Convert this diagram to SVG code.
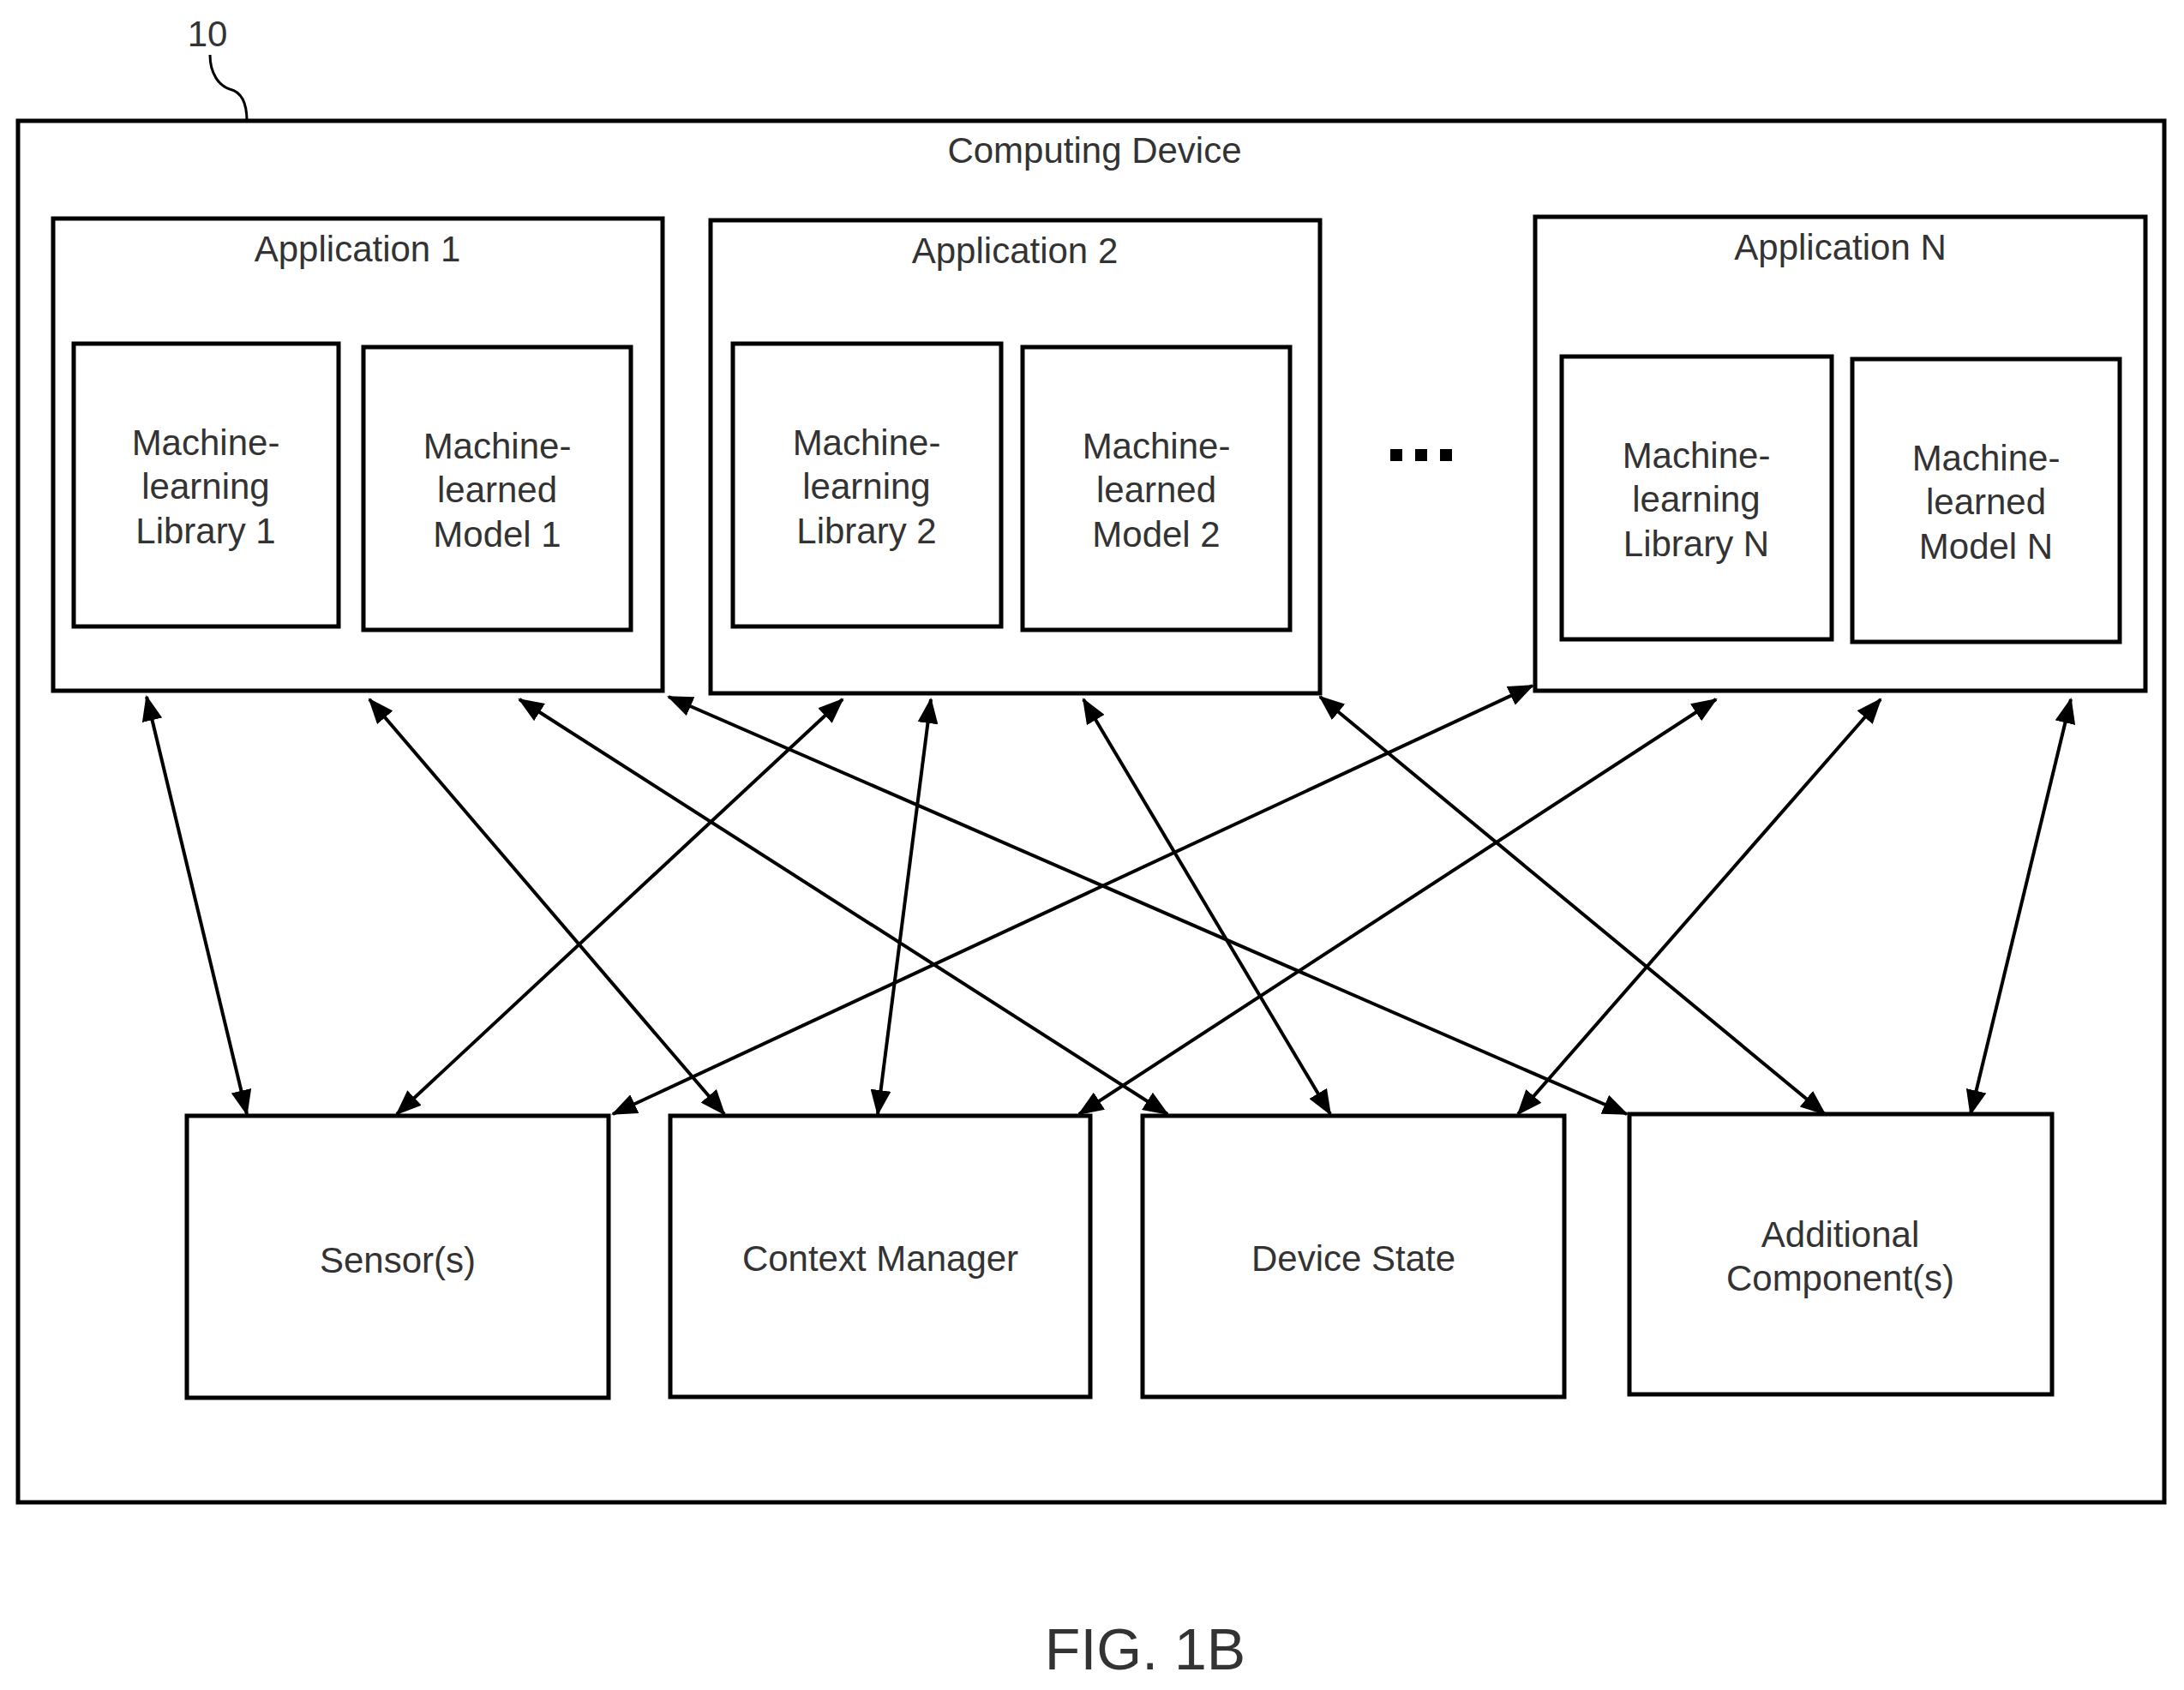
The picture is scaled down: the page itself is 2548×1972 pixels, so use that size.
<svg xmlns="http://www.w3.org/2000/svg" width="2548" height="1972" viewBox="0 0 2548 1972">
<style>
.b{fill:#fff;stroke:#000;stroke-width:5}
.t{font-family:"Liberation Sans",Arial,sans-serif;font-size:42px;fill:#333;text-anchor:middle}
.c line{stroke:#000;stroke-width:4}
</style>
<defs>
<marker id="a" markerUnits="userSpaceOnUse" markerWidth="30" markerHeight="24" refX="28" refY="12" orient="auto-start-reverse">
<path d="M0,0 L30,12 L0,24 Z" fill="#000"/>
</marker>
</defs>
<rect width="2548" height="1972" fill="#fff"/>
<g id="ref">
<text x="242" y="54" class="t">10</text>
<path d="M245,64 C245,85 255,100 268,104 C285,108 288,125 288,141" fill="none" stroke="#000" stroke-width="3"/>
</g>
<g id="device">
<rect x="21" y="141" width="2504" height="1612" class="b"/>
<text x="1277" y="190" class="t">Computing Device</text>
</g>
<g id="app1">
<rect x="62" y="255" width="711" height="551" class="b"/>
<text x="417" y="305" class="t">Application 1</text>
</g>
<g id="lib1"><rect x="86" y="401" width="309" height="330" class="b"/>
<text x="240" y="531" class="t">Machine-</text><text x="240" y="582" class="t">learning</text><text x="240" y="634" class="t">Library 1</text></g>
<g id="model1"><rect x="424" y="405" width="312" height="330" class="b"/>
<text x="580" y="535" class="t">Machine-</text><text x="580" y="586" class="t">learned</text><text x="580" y="638" class="t">Model 1</text></g>
<g id="app2">
<rect x="829" y="257" width="711" height="552" class="b"/>
<text x="1184" y="307" class="t">Application 2</text>
</g>
<g id="lib2"><rect x="855" y="401" width="313" height="330" class="b"/>
<text x="1011" y="531" class="t">Machine-</text><text x="1011" y="582" class="t">learning</text><text x="1011" y="634" class="t">Library 2</text></g>
<g id="model2"><rect x="1193" y="405" width="312" height="330" class="b"/>
<text x="1349" y="535" class="t">Machine-</text><text x="1349" y="586" class="t">learned</text><text x="1349" y="638" class="t">Model 2</text></g>
<g id="dots"><rect x="1622" y="524" width="14" height="14"/><rect x="1651" y="524" width="14" height="14"/><rect x="1680" y="524" width="14" height="14"/></g>
<g id="appN">
<rect x="1791" y="253" width="712" height="553" class="b"/>
<text x="2147" y="303" class="t">Application N</text>
</g>
<g id="libN"><rect x="1822" y="416" width="315" height="330" class="b"/>
<text x="1979" y="546" class="t">Machine-</text><text x="1979" y="597" class="t">learning</text><text x="1979" y="649" class="t">Library N</text></g>
<g id="modelN"><rect x="2161" y="419" width="312" height="330" class="b"/>
<text x="2317" y="549" class="t">Machine-</text><text x="2317" y="600" class="t">learned</text><text x="2317" y="652" class="t">Model N</text></g>
<g id="sensors"><rect x="218" y="1302" width="492" height="329" class="b"/><text x="464" y="1485" class="t">Sensor(s)</text></g>
<g id="context"><rect x="782" y="1302" width="490" height="328" class="b"/><text x="1027" y="1483" class="t">Context Manager</text></g>
<g id="state"><rect x="1333" y="1302" width="492" height="328" class="b"/><text x="1579" y="1483" class="t">Device State</text></g>
<g id="additional"><rect x="1901" y="1300" width="493" height="327" class="b"/><text x="2147" y="1455" class="t">Additional</text><text x="2147" y="1506" class="t">Component(s)</text></g>
<g class="c" marker-start="url(#a)" marker-end="url(#a)">
<line x1="171" y1="813" x2="288" y2="1300" marker-start="url(#a)" marker-end="url(#a)"/>
<line x1="431" y1="816" x2="845" y2="1300" marker-start="url(#a)" marker-end="url(#a)"/>
<line x1="606" y1="816" x2="1362" y2="1300" marker-start="url(#a)" marker-end="url(#a)"/>
<line x1="780" y1="813" x2="1898" y2="1300" marker-start="url(#a)" marker-end="url(#a)"/>
<line x1="983" y1="816" x2="463" y2="1300" marker-start="url(#a)" marker-end="url(#a)"/>
<line x1="1086" y1="816" x2="1024" y2="1300" marker-start="url(#a)" marker-end="url(#a)"/>
<line x1="1264" y1="816" x2="1552" y2="1300" marker-start="url(#a)" marker-end="url(#a)"/>
<line x1="1540" y1="813" x2="2129" y2="1300" marker-start="url(#a)" marker-end="url(#a)"/>
<line x1="1788" y1="800" x2="715" y2="1300" marker-start="url(#a)" marker-end="url(#a)"/>
<line x1="2002" y1="816" x2="1259" y2="1300" marker-start="url(#a)" marker-end="url(#a)"/>
<line x1="2194" y1="816" x2="1771" y2="1300" marker-start="url(#a)" marker-end="url(#a)"/>
<line x1="2416" y1="816" x2="2299" y2="1300" marker-start="url(#a)" marker-end="url(#a)"/>
</g>
<g id="caption"><text x="1336" y="1948" class="t" style="font-size:68px">FIG. 1B</text></g>
</svg>
